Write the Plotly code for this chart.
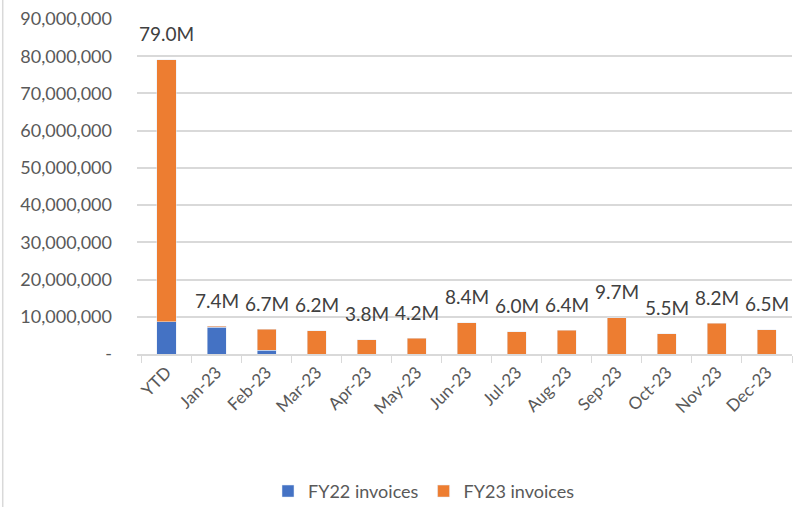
import plotly.graph_objects as go

months = ["YTD", "Jan-23", "Feb-23", "Mar-23", "Apr-23", "May-23", "Jun-23",
          "Jul-23", "Aug-23", "Sep-23", "Oct-23", "Nov-23", "Dec-23"]
fy22 = [8.7e6, 7.2e6, 1.0e6, 0, 0, 0, 0, 0, 0, 0, 0, 0, 0]
fy23 = [70.3e6, 0.2e6, 5.7e6, 6.2e6, 3.8e6, 4.2e6, 8.4e6,
        6.0e6, 6.4e6, 9.7e6, 5.5e6, 8.2e6, 6.5e6]
y_ticks = [0, 10e6, 20e6, 30e6, 40e6, 50e6, 60e6, 70e6, 80e6, 90e6]
y_tick_text = ["-", "10,000,000", "20,000,000", "30,000,000", "40,000,000",
               "50,000,000", "60,000,000", "70,000,000", "80,000,000", "90,000,000"]

FONT = "Lato, Calibri, sans-serif"
GREY = "#595959"

totals = [a + b for a, b in zip(fy22, fy23)]

fig = go.Figure()
fig.add_trace(go.Bar(x=months, y=fy22, name="FY22 invoices", marker_color="#4472C4"))
fig.add_trace(go.Bar(x=months, y=fy23, name="FY23 invoices", marker_color="#ED7D31"))

for m, t in zip(months, totals):
    fig.add_annotation(x=m, y=t, text=f"{t / 1e6:.1f}M", showarrow=False,
                       yshift=26, font=dict(size=19, color="#404040", family=FONT))

# outer chart border on the left
fig.add_shape(type="line", xref="paper", yref="paper", x0=-0.205, x1=-0.205,
              y0=-0.46, y1=1.06, line=dict(color="#D9D9D9", width=1.5))

fig.update_layout(
    barmode="stack",
    bargap=0.62,
    width=803, height=507,
    margin=dict(l=137, r=11, t=19, b=153, autoexpand=False),
    plot_bgcolor="white", paper_bgcolor="white",
    font=dict(family=FONT, color=GREY),
    legend=dict(orientation="h", x=0.2, xanchor="left", y=-0.41, yanchor="middle",
                traceorder="normal", font=dict(size=18, color=GREY), itemwidth=30),
    xaxis=dict(tickangle=-45, tickfont=dict(size=17, color=GREY), automargin=False,
               showline=True, linecolor="#D9D9D9", linewidth=1.5,
               ticks="outside", tickson="boundaries", ticklen=7, tickcolor="#D9D9D9"),
    yaxis=dict(range=[0, 90e6], tickvals=y_ticks, ticktext=y_tick_text, automargin=False,
               tickfont=dict(size=18, color=GREY), gridcolor="#D9D9D9",
               gridwidth=1.5, zeroline=False, ticklabelstandoff=24),
)

# drop the default page margin so the figure fills the window exactly
fig.write_html("out.html", config={"displayModeBar": False},
               post_script="document.body.style.margin='0';")
